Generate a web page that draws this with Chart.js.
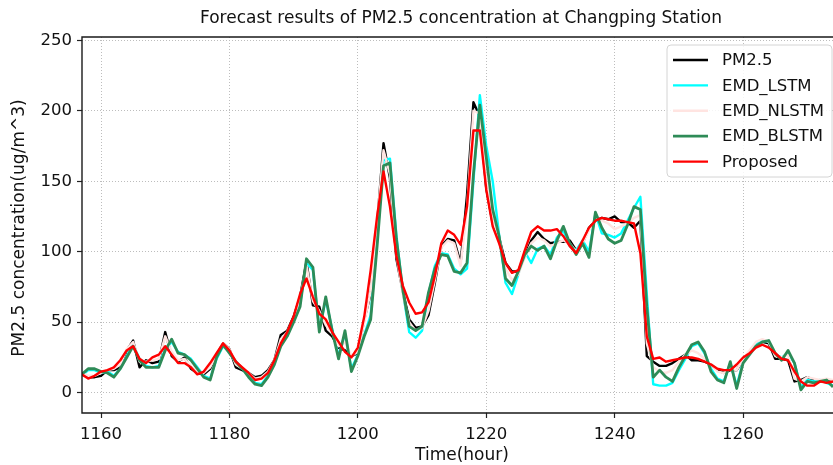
<!DOCTYPE html>
<html>
<head>
<meta charset="utf-8">
<title>Forecast results of PM2.5 concentration at Changping Station</title>
<script src="https://cdn.jsdelivr.net/npm/chart.js@4.4.1/dist/chart.umd.min.js"></script>
<style>
  html, body { margin: 0; padding: 0; background: #fff; }
  #wrap { width: 833px; height: 465px; overflow: hidden; }
</style>
</head>
<body>
<div id="wrap"><canvas id="pm" width="833" height="465"></canvas></div>
<script>
// Hourly series, hour 1157 .. 1274
const firstHour = 1157;

const pm25 = [
  13, 11, 11, 12, 16, 16, 18, 30, 37, 18, 23, 21, 22, 43, 26, 22, 25, 17, 14, 13,
  17, 27, 35, 31, 18, 16, 14, 11, 12, 16, 23, 41, 44, 54, 68, 93, 62, 61, 44, 40,
  32, 30, 26, 28, 52, 70, 120, 177, 152, 95, 72, 52, 46, 47, 55, 78, 104, 109, 108, 92,
  140, 206, 196, 145, 120, 110, 92, 86, 86, 97, 108, 114, 109, 106, 107, 107, 108, 101, 106, 117,
  122, 124, 123, 125, 121, 121, 117, 122, 26, 22, 19, 19, 21, 24, 27, 23, 23, 22, 20, 16,
  14, 16, 16, 23, 28, 34, 36, 35, 24, 24, 23, 8, 9, 11, 9, 8, 9, 8
];

const emdLstm = [
  12, 16, 16, 14, 15, 12, 17, 26, 34, 24, 19, 18, 19, 31, 36, 29, 27, 24, 18, 12,
  10, 24, 33, 29, 21, 17, 12, 7, 6, 12, 21, 34, 41, 51, 63, 92, 87, 45, 66, 45,
  26, 42, 17, 27, 41, 55, 108, 165, 166, 112, 72, 43, 39, 44, 70, 90, 99, 98, 88, 84,
  88, 150, 211, 175, 150, 112, 78, 70, 84, 100, 92, 102, 104, 98, 110, 115, 104, 101, 108, 100,
  127, 113, 112, 110, 113, 122, 131, 139, 70, 6, 5, 5, 7, 16, 24, 33, 35, 28, 17, 10,
  8, 21, 5, 22, 28, 34, 37, 36, 27, 25, 28, 21, 4, 9, 8, 9, 7, 5
];

const emdNlstm = [
  14, 12, 12, 14, 16, 17, 20, 31, 36, 22, 22, 23, 24, 40, 29, 23, 24, 19, 15, 14,
  18, 27, 35, 31, 20, 17, 14, 10, 11, 15, 23, 38, 43, 53, 67, 90, 65, 58, 48, 42,
  33, 36, 26, 29, 50, 72, 122, 172, 155, 98, 70, 50, 44, 46, 58, 80, 103, 108, 106, 90,
  130, 200, 198, 150, 122, 110, 88, 80, 84, 96, 106, 110, 108, 104, 106, 108, 106, 100, 106, 115,
  123, 122, 120, 116, 118, 120, 124, 126, 35, 18, 15, 14, 16, 22, 27, 30, 28, 24, 20, 15,
  14, 17, 16, 24, 30, 36, 38, 36, 26, 25, 27, 10, 8, 11, 10, 9, 10, 9
];

const emdBlstm = [
  13, 17, 17, 15, 14, 11, 17, 25, 33, 23, 18, 18, 18, 30, 38, 28, 27, 23, 17, 11,
  9, 25, 34, 28, 22, 17, 11, 6, 5, 11, 20, 33, 40, 50, 61, 95, 89, 43, 68, 44,
  24, 44, 15, 26, 40, 52, 104, 161, 163, 109, 73, 47, 44, 47, 71, 88, 98, 97, 86, 85,
  92, 155, 204, 167, 130, 111, 81, 76, 86, 98, 104, 101, 104, 95, 108, 118, 106, 98, 106, 96,
  128, 117, 109, 106, 108, 119, 132, 130, 61, 11, 16, 11, 8, 18, 26, 34, 36, 29, 15, 9,
  7, 22, 3, 21, 27, 33, 36, 37, 28, 23, 30, 21, 2, 8, 7, 8, 9, 4
];

const proposed = [
  13, 10, 12, 15, 16, 18, 23, 30, 33, 24, 21, 25, 27, 33, 27, 21, 21, 18, 13, 15,
  21, 28, 35, 30, 22, 18, 14, 9, 10, 14, 23, 35, 43, 54, 70, 81, 68, 56, 52, 43,
  36, 29, 25, 32, 54, 87, 125, 157, 132, 97, 76, 64, 56, 57, 64, 83, 106, 115, 112, 105,
  132, 186, 186, 144, 118, 106, 92, 85, 87, 101, 114, 118, 115, 115, 116, 111, 104, 99, 108, 117,
  122, 124, 123, 122, 122, 121, 120, 99, 40, 24, 25, 22, 23, 24, 25, 25, 24, 22, 20, 17,
  16, 16, 20, 25, 28, 32, 34, 32, 28, 24, 23, 15, 8, 5, 5, 8, 7, 8
];

const xTicks = [1160, 1180, 1200, 1220, 1240, 1260];
const yTicks = [0, 50, 100, 150, 200, 250];

const titleText = 'Forecast results of PM2.5 concentration at Changping Station';
const xLabel = 'Time(hour)';
const yLabel = 'PM2.5 concentration(ug/m^3)';

const FONT = '"DejaVu Sans", "Liberation Sans", sans-serif';
const TICK_SIZE = 16.5;
const LABEL_SIZE = 17;

// legend order = declaration order; `order` only controls stacking (red on top)
const series = [
  { label: 'PM2.5',     data: pm25,     color: '#000000', width: 2.4, order: 4 },
  { label: 'EMD_LSTM',  data: emdLstm,  color: '#00ffff', width: 2.4, order: 3 },
  { label: 'EMD_NLSTM', data: emdNlstm, color: '#ffe4e1', width: 2.4, order: 2 },
  { label: 'EMD_BLSTM', data: emdBlstm, color: '#2e8b57', width: 2.8, order: 1 },
  { label: 'Proposed',  data: proposed, color: '#ff0000', width: 2.4, order: 0 },
];

const datasets = series.map(s => ({
  label: s.label,
  data: s.data.map((v, i) => ({ x: firstHour + i, y: v })),
  borderColor: s.color,
  backgroundColor: s.color,
  borderWidth: s.width,
  borderJoinStyle: 'round',
  pointRadius: 0,
  tension: 0,
  fill: false,
  order: s.order,
}));

function gridOpts() {
  return {
    color: '#bdbdbd', lineWidth: 1,
    drawTicks: true, tickLength: 5, tickColor: '#222', tickWidth: 1.2, tickBorderDash: [],
  };
}

// matplotlib-ish frame, titles and boxed legend
const decor = {
  id: 'decor',
  afterDraw(chart) {
    const { ctx, chartArea: a } = chart;
    ctx.save();

    // spines (right one falls outside the canvas)
    ctx.strokeStyle = '#1a1a1a';
    ctx.lineWidth = 1.4;
    ctx.beginPath();
    ctx.moveTo(a.right + 2, a.top); ctx.lineTo(a.left, a.top);
    ctx.lineTo(a.left, a.bottom); ctx.lineTo(a.right + 2, a.bottom);
    ctx.stroke();

    ctx.fillStyle = '#111';
    ctx.font = LABEL_SIZE + 'px ' + FONT;
    ctx.textAlign = 'center';
    ctx.textBaseline = 'middle';
    ctx.fillText(titleText, 461, 19);
    ctx.fillText(xLabel, 462, 456);

    ctx.save();
    ctx.translate(20, 228);
    ctx.rotate(-Math.PI / 2);
    ctx.fillText(yLabel, 0, 0);
    ctx.restore();

    // legend box
    const bx = 667, by = 45, bw = 165, bh = 132, r = 4;
    ctx.beginPath();
    ctx.moveTo(bx + r, by);
    ctx.arcTo(bx + bw, by, bx + bw, by + bh, r);
    ctx.arcTo(bx + bw, by + bh, bx, by + bh, r);
    ctx.arcTo(bx, by + bh, bx, by, r);
    ctx.arcTo(bx, by, bx + bw, by, r);
    ctx.closePath();
    ctx.fillStyle = 'rgba(255,255,255,0.85)';
    ctx.fill();
    ctx.strokeStyle = '#d4d4d4';
    ctx.lineWidth = 1;
    ctx.stroke();

    ctx.font = TICK_SIZE + 'px ' + FONT;
    ctx.textAlign = 'left';
    series.forEach((s, i) => {
      const y = 60 + i * 25.4;
      ctx.strokeStyle = s.color;
      ctx.lineWidth = s.width;
      ctx.beginPath();
      ctx.moveTo(673, y); ctx.lineTo(708, y);
      ctx.stroke();
      ctx.fillStyle = '#111';
      ctx.fillText(s.label, 722, y + 1);
    });

    ctx.restore();
  }
};

new Chart(document.getElementById('pm'), {
  type: 'line',
  data: { datasets },
  plugins: [decor],
  options: {
    responsive: false,
    animation: false,
    devicePixelRatio: 1,
    layout: { padding: { top: 37, right: 0, bottom: 0, left: 0 } },
    plugins: { legend: { display: false }, title: { display: false }, tooltip: { enabled: false } },
    scales: {
      x: {
        type: 'linear',
        min: 1157.04,
        max: 1274,
        afterBuildTicks: s => { s.ticks = xTicks.map(v => ({ value: v })); },
        afterFit: s => { s.height = 52; },
        grid: gridOpts(),
        border: { display: false, dash: [1, 2] },
        ticks: {
          color: '#111', font: { family: FONT, size: TICK_SIZE }, padding: 7,
          maxRotation: 0, autoSkip: false, callback: v => String(v),
        },
      },
      y: {
        type: 'linear',
        min: -14.4,
        max: 252.3,
        afterBuildTicks: s => { s.ticks = yTicks.map(v => ({ value: v })); },
        afterFit: s => { s.width = 82; },
        grid: gridOpts(),
        border: { display: false, dash: [1, 2] },
        ticks: {
          color: '#111', font: { family: FONT, size: TICK_SIZE }, padding: 5,
          callback: v => String(v),
        },
      },
    },
  },
});
</script>
</body>
</html>
